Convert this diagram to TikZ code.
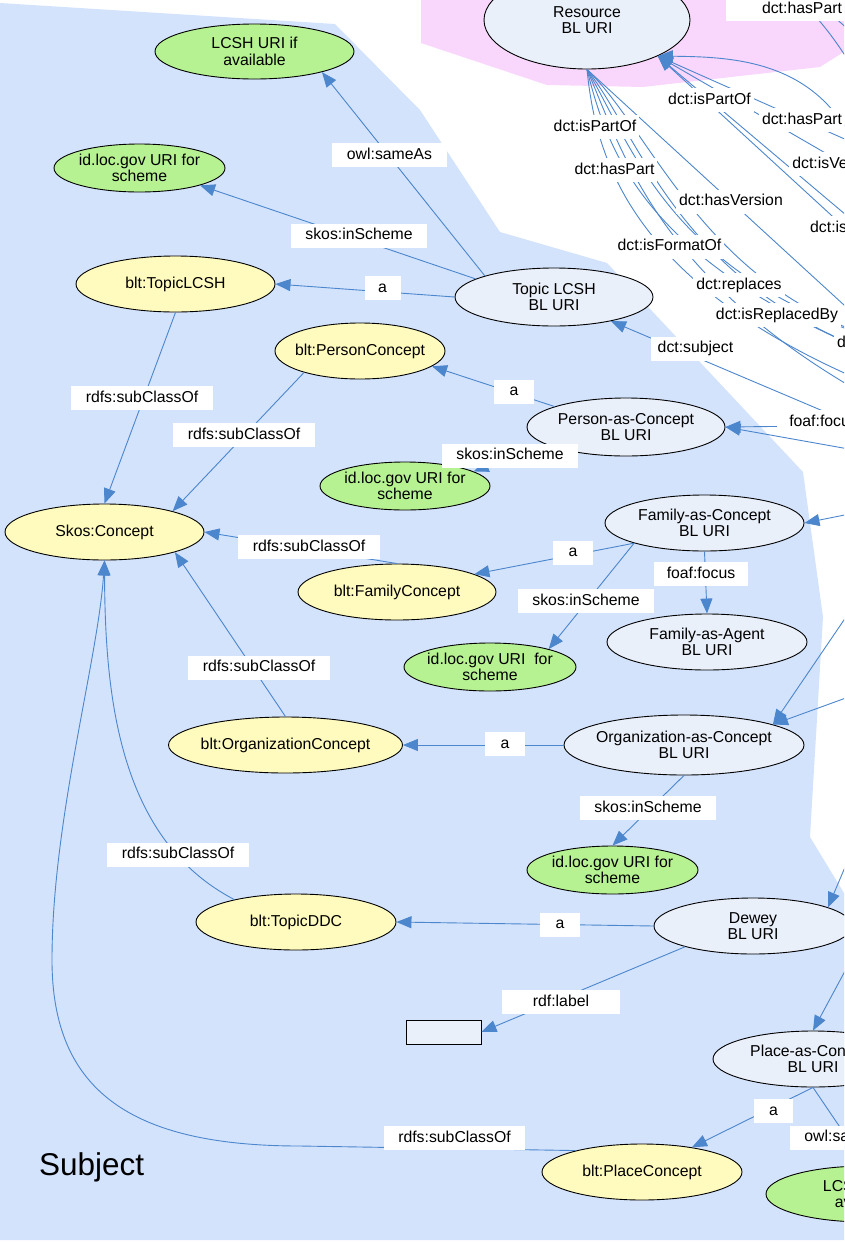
\documentclass[tikz,border=0pt]{standalone}
\usepackage{fontspec}
\setmainfont{Liberation Sans}
\usetikzlibrary{arrows.meta,shapes.geometric}
\definecolor{bluereg}{RGB}{211,227,252}
\definecolor{pinkreg}{RGB}{249,214,251}
\definecolor{resfill}{RGB}{234,240,250}
\definecolor{greenfill}{RGB}{182,242,146}
\definecolor{yellowfill}{RGB}{255,251,190}
\definecolor{edgeblue}{RGB}{76,134,204}
\tikzset{
 basefont/.style={font=\fontsize{15.8}{16.5}\selectfont},
 ell/.style={basefont, ellipse, draw=black, line width=0.9pt, inner sep=-8pt, align=center},
 sz/.style 2 args={minimum width=#1pt, minimum height=#2pt},
 res/.style={ell, fill=resfill},
 grn/.style={ell, fill=greenfill},
 ylw/.style={ell, fill=yellowfill},
 lbl/.style={basefont, fill=white, inner xsep=3pt, inner ysep=0pt, minimum height=24pt, text height=11pt, text depth=3pt},
 edge/.style={draw=edgeblue, line width=0.9pt, -{Triangle[length=15pt,width=12pt]}},
}
\begin{document}
\begin{tikzpicture}[x=1pt,y=-1pt]
\useasboundingbox (0,0) rectangle (844,1243);
\clip (0,0) rectangle (844,1243);
% regions
\fill[bluereg] (0,3) -- (335,24) -- (420,110) -- (500,232) -- (607,263) -- (803,472) -- (823,617) -- (810,837) -- (844,893) -- (844,1240) -- (0,1240) -- cycle;
\fill[pinkreg] (421,-5) -- (421,43) -- (547,85) -- (643,87) -- (820,67) -- (850,48) -- (850,-5) -- cycle;
% nodes
\node[res, sz={206}{98}] (Resource) at (587,20) {Resource\\BL URI};
\node[grn, sz={199}{55}] (LCSHtop) at (254.5,51.5) {LCSH URI if\\available};
\node[grn, sz={171}{48}] (idloc1) at (139.5,168) {id.loc.gov URI for\\scheme};
\node[ylw, sz={199}{56}] (TopicLCSHc) at (175.5,284) {blt:TopicLCSH};
\node[res, sz={198}{58}] (TopicLCSH) at (554,297) {Topic LCSH\\BL URI};
\node[ylw, sz={170}{56}] (PersonCon) at (360,351) {blt:PersonConcept};
\node[res, sz={198}{58}] (PersonC) at (626,427) {Person-as-Concept\\BL URI};
\node[grn, sz={170}{48}] (idloc2) at (405,486) {id.loc.gov URI for\\scheme};
\node[ylw, sz={199}{56}] (Skos) at (104.5,532) {Skos:Concept};
\node[ylw, sz={198}{56}] (FamilyCon) at (397,592) {blt:FamilyConcept};
\node[res, sz={199}{56}] (FamilyC) at (704.5,523) {Family-as-Concept\\BL URI};
\node[res, sz={200}{56}] (FamilyA) at (707,642) {Family-as-Agent\\BL URI};
\node[grn, sz={172}{48}] (idloc3) at (490,667) {id.loc.gov URI\ \ for\\scheme};
\node[ylw, sz={234}{56}] (OrgCon) at (285.5,745) {blt:OrganizationConcept};
\node[res, sz={240}{60}] (OrgC) at (684,745) {Organization-as-Concept\\BL URI};
\node[grn, sz={171}{48}] (idloc4) at (612.5,870) {id.loc.gov URI for\\scheme};
\node[ylw, sz={200}{56}] (TopicDDC) at (296,922) {blt:TopicDDC};
\node[res, sz={198}{56}] (Dewey) at (753,926) {Dewey\\BL URI};
\node[draw=black, line width=0.9pt, fill=resfill, minimum width=75pt, minimum height=24pt, inner sep=0pt] (lit) at (443.5,1032) {};
\node[res, sz={200}{56}] (PlaceC) at (813,1059) {Place-as-Concept\\BL URI};
\node[ylw, sz={200}{56}] (PlaceCon) at (642,1172) {blt:PlaceConcept};
\node[grn, sz={200}{56}] (LCSHbot) at (866,1194) {LCSH URI if\\available};
\node[font=\fontsize{31.5}{34}\selectfont, anchor=base west, inner sep=0pt] (subj) at (39,1175) {Subject};
% off-screen ends
\coordinate (xA) at (1000,370);
\coordinate (xB) at (1000,254);
\coordinate (xC) at (1000,208);
\coordinate (xD) at (1000,345);
\coordinate (xE) at (870,190);
\coordinate (xT1) at (760,-30);
\coordinate (xT1b) at (880,110);
\coordinate (xT2) at (770,-30);
\coordinate (xT2b) at (900,80);
\coordinate (f1) at (1000,430);
\coordinate (f2) at (1000,400);
\coordinate (f3) at (1000,448);
\coordinate (f4) at (1000,460);
\coordinate (f5) at (1000,370);
\coordinate (f6) at (1000,385);
\coordinate (f7) at (1000,360);
\coordinate (xSubj) at (1000,486);
\coordinate (xFoaf) at (1000,424);
\coordinate (xP2) at (1000,476);
\coordinate (xFam) at (1000,484);
\coordinate (xOrg1) at (950,464);
\coordinate (xOrg2) at (1000,642);
\coordinate (xDew) at (916,700);
\coordinate (xPl) at (910,850);
% edges
\draw[edge] (TopicLCSH.163) -- (LCSHtop.-17);
\draw[edge] (TopicLCSH.167) -- (idloc1.-16);
\draw[edge] (TopicLCSH.west) -- (TopicLCSHc.east);
\draw[edge] (TopicLCSHc.south) -- (Skos.north);
\draw[edge] (PersonCon.201) -- (Skos.17);
\draw[edge] (PersonC.164) -- (PersonCon.-12);
\draw[edge] (PersonC.192) -- (idloc2.12);
\draw[edge] (FamilyC.196) -- (FamilyCon.13);
\draw[edge] (FamilyC.196) -- (idloc3.17);
\draw[edge] (FamilyC.south) -- (FamilyA.north);
\draw[edge] (FamilyCon.north) -- (Skos.east);
\draw[edge] (OrgCon.north) -- (Skos.-16);
\draw[edge] (OrgC.west) -- (OrgCon.east);
\draw[edge] (OrgC.south) -- (idloc4.north);
\draw[edge] (TopicDDC.160) .. controls (120,840) and (105,700) .. (Skos.south);
\draw[edge] (PlaceCon.162) -- (300,1146) .. controls (130,1146) and (52,1090) .. (52,960) .. controls (52,820) and (98,660) .. (Skos.south);
\draw[edge] (Dewey.west) -- (TopicDDC.east);
\draw[edge] (Dewey.197) -- (lit.east);
\draw[edge] (PlaceC.south) -- (PlaceCon);
\draw[edge] (PlaceC.south) -- (LCSHbot.north);
% edges to and from nodes outside the frame
\draw[edge] (xA) -- (Resource.-27);
\draw[edge] (xB) -- (Resource.-27);
\draw[edge] (xC) -- (Resource.-27);
\draw[edge] (xD) -- (Resource.-27);
\draw[edge] (xE) .. controls (840,60) and (740,57) .. (Resource.-27);
\draw[edge] (xT1) .. controls (820,10) and (835,40) .. (xT1b);
\draw[edge] (xT2) .. controls (830,10) and (850,30) .. (xT2b);
\draw[edge] (Resource.south) .. controls (597,170) and (640,320) .. (f1);
\draw[edge] (Resource.south) .. controls (612,170) and (660,290) .. (f2);
\draw[edge] (Resource.south) -- (f3);
\draw[edge] (Resource.south) .. controls (630,170) and (670,320) .. (f4);
\draw[edge] (Resource.south) .. controls (640,160) and (680,310) .. (f5);
\draw[edge] (Resource.south) .. controls (650,150) and (690,330) .. (f6);
\draw[edge] (Resource.south) .. controls (665,145) and (720,340) .. (f7);
\draw[edge] (xSubj) -- (TopicLCSH);
\draw[edge] (xFoaf) -- (PersonC.east);
\draw[edge] (xP2) -- (PersonC.east);
\draw[edge] (xFam) -- (FamilyC.east);
\draw[edge] (xOrg1) -- (OrgC.13);
\draw[edge] (xOrg2) -- (OrgC.13);
\draw[edge] (xDew) -- (Dewey.14);
\draw[edge] (xPl) -- (PlaceC.north);
% labels
\node[lbl, minimum width=115pt] (l1) at (389.5,155) {owl:sameAs};
\node[lbl, minimum width=136pt] (l2) at (359,235.5) {skos:inScheme};
\node[lbl, minimum width=36pt] (l3) at (382.5,288) {a};
\node[lbl, minimum width=142pt] (l4) at (142,398) {rdfs:subClassOf};
\node[lbl, minimum width=142pt] (l5) at (244,435) {rdfs:subClassOf};
\node[lbl, minimum width=40pt] (l6) at (514,391.5) {a};
\node[lbl, minimum width=136pt] (l7) at (510,455.5) {skos:inScheme};
\node[lbl, minimum width=40pt] (l8) at (573,552.5) {a};
\node[lbl, minimum width=136pt] (l9) at (586,601) {skos:inScheme};
\node[lbl, minimum width=94pt] (l10) at (701,574) {foaf:focus};
\node[lbl, minimum width=142pt] (l11) at (309,547) {rdfs:subClassOf};
\node[lbl, minimum width=142pt] (l12) at (259,667.5) {rdfs:subClassOf};
\node[lbl, minimum width=40pt] (l13) at (505,744) {a};
\node[lbl, minimum width=136pt] (l14) at (648,808) {skos:inScheme};
\node[lbl, minimum width=142pt] (l15) at (178,854.5) {rdfs:subClassOf};
\node[lbl, minimum width=141pt] (l16) at (454.5,1138) {rdfs:subClassOf};
\node[lbl, minimum width=40pt] (l17) at (560,924.5) {a};
\node[lbl, minimum width=118pt] (l18) at (561,1002) {rdf:label};
\node[lbl, minimum width=39pt] (l19) at (773.5,1111) {a};
\node[lbl, minimum width=115pt] (l20) at (847,1137.5) {owl:sameAs};
\node[lbl, minimum width=89pt] (l21) at (695.5,348.5) {dct:subject};
\node[lbl, minimum width=94pt] (l22) at (823.5,422) {foaf:focus};
\node[lbl] (l23) at (709.5,100) {dct:isPartOf};
\node[lbl] (l24) at (802,120) {dct:hasPart};
\node[lbl] (l25) at (845.5,164) {dct:isVersionOf};
\node[lbl] (l26) at (862,228) {dct:isFormatOf};
\node[lbl, minimum width=152pt] (l27) at (802,9) {dct:hasPart};
\node[lbl] (l28) at (887.5,343) {dct:hasFormat};
\node[lbl] (l29) at (595,127) {dct:isPartOf};
\node[lbl] (l30) at (614.5,170) {dct:hasPart};
\node[lbl] (l31) at (731,201.5) {dct:hasVersion};
\node[lbl] (l32) at (669.5,246.5) {dct:isFormatOf};
\node[lbl] (l33) at (739,285) {dct:replaces};
\node[lbl] (l34) at (777,315) {dct:isReplacedBy};
\end{tikzpicture}
\end{document}
